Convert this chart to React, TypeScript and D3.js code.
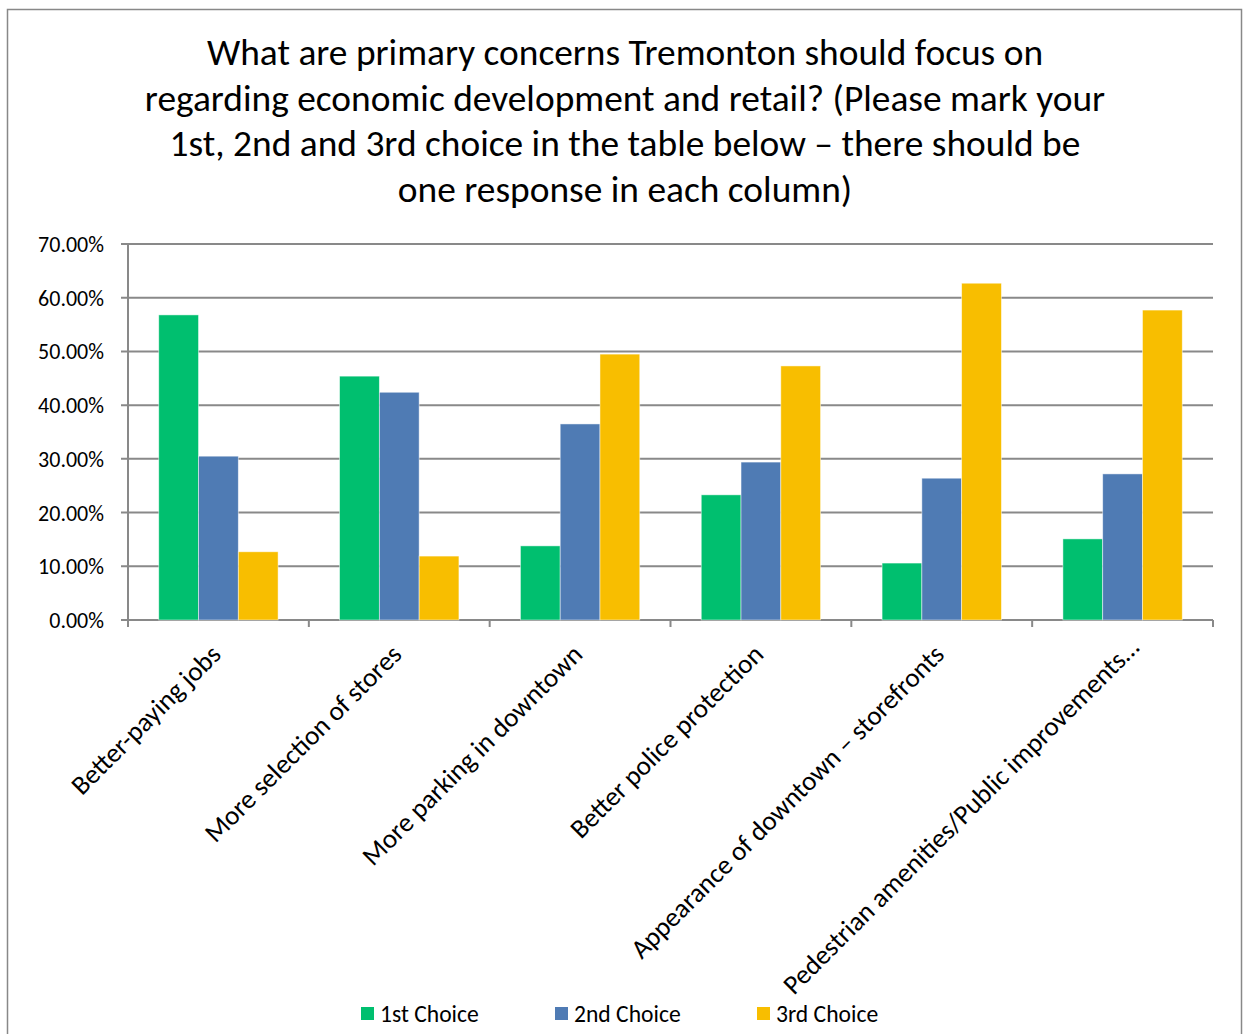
import React from "react";
import * as d3 from "d3";

const categories = [
  "Better-paying jobs",
  "More selection of stores",
  "More parking in downtown",
  "Better police protection",
  "Appearance of downtown – storefronts",
  "Pedestrian amenities/Public improvements…",
];
const seriesNames = ["1st Choice", "2nd Choice", "3rd Choice"];
const firstChoice = [56.8, 45.4, 13.8, 23.3, 10.6, 15.1];
const secondChoice = [30.5, 42.4, 36.5, 29.4, 26.4, 27.2];
const thirdChoice = [12.7, 11.9, 49.5, 47.3, 62.7, 57.7];
const colors = ["#00BF6F", "#4F7BB4", "#F8BE00"];
const yTicks = [0, 10, 20, 30, 40, 50, 60, 70];
const titleLines = [
  "What are primary concerns Tremonton should focus on",
  "regarding economic development and retail? (Please mark your",
  "1st, 2nd and 3rd choice in the table below – there should be",
  "one response in each column)",
];

export default function App() {
  const W = 1244, H = 1034;
  const left = 128, right = 1213, top = 244, bottom = 620;
  const series = [firstChoice, secondChoice, thirdChoice];
  const x0 = d3.scaleBand().domain(categories).range([left, right]).paddingInner(0.34).paddingOuter(0.17);
  const x1 = d3.scaleBand().domain(seriesNames).range([0, x0.bandwidth()]);
  const y = d3.scaleLinear().domain([0, 70]).range([bottom, top]);
  const step = (right - left) / categories.length;
  const font = "Carlito, Lato, 'Open Sans', sans-serif";
  return (
    <svg width={W} height={H} style={{ position: "absolute", left: 0, top: 0 }} fontFamily={font}>
      <rect x={0} y={0} width={W} height={H} fill="#fff" />
      <rect x={7.5} y={9.5} width={1234} height={1040} fill="none" stroke="#888" strokeWidth={1.5} />
      {titleLines.map((t, i) => (
        <text key={i} x={625} y={65 + i * 45.5} textAnchor="middle" fontSize={37.4} fill="#000">{t}</text>
      ))}
      {yTicks.map((t) => (
        <g key={t}>
          <line x1={121} x2={right} y1={y(t)} y2={y(t)} stroke="#898989" strokeWidth={2} />
          <text x={104} y={y(t) + 8} textAnchor="end" fontSize={22} fill="#000">{t.toFixed(2)}%</text>
        </g>
      ))}
      <line x1={left} x2={left} y1={top} y2={bottom} stroke="#898989" strokeWidth={2} />
      {d3.range(categories.length + 1).map((i) => (
        <line key={i} x1={left + i * step} x2={left + i * step} y1={bottom} y2={bottom + 7} stroke="#898989" strokeWidth={2} />
      ))}
      {categories.map((c, ci) => (
        <g key={c}>
          {series.map((s, si) => (
            <rect
              key={si}
              x={(x0(c) as number) + (x1(seriesNames[si]) as number)}
              y={y(s[ci])}
              width={x1.bandwidth()}
              height={bottom - y(s[ci])}
              fill={colors[si]}
              stroke="#fff"
              strokeOpacity={0.6}
              strokeWidth={0.8}
            />
          ))}
        </g>
      ))}
      {categories.map((c, ci) => {
        const extra = ci === categories.length - 1 ? 14 : 0;
        const cx = (x0(c) as number) + x0.bandwidth() / 2 + 4 + extra;
        const cy = bottom + 36 - extra * 0.5;
        return (
          <text key={c} transform={`translate(${cx},${cy}) rotate(-45)`} textAnchor="end" fontSize={27} fill="#000">{c}</text>
        );
      })}
      {seriesNames.map((n, i) => {
        const lx = [361, 555, 757][i];
        return (
          <g key={n}>
            <rect x={lx} y={1007} width={13} height={13} fill={colors[i]} />
            <text x={lx + 19} y={1021.5} fontSize={23.6} fill="#000">{n}</text>
          </g>
        );
      })}
    </svg>
  );
}
